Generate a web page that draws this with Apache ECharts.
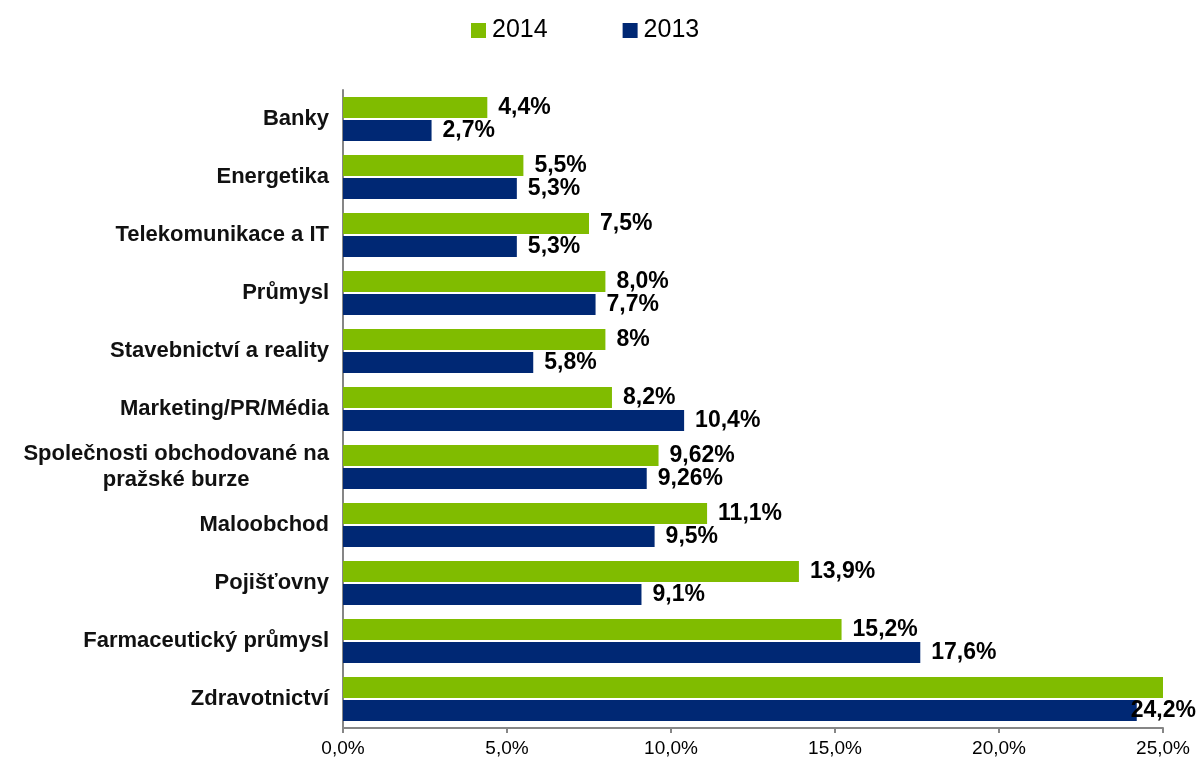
<!DOCTYPE html>
<html>
<head>
<meta charset="utf-8">
<script src="https://cdn.jsdelivr.net/npm/echarts@6/dist/echarts.min.js"></script>
<style>
  html, body { margin: 0; padding: 0; background: #fff; }
  #chart { width: 1198px; height: 758px; }
</style>
</head>
<body>
<div id="chart"></div>
<script>
// data
const categories = ['Banky', 'Energetika', 'Telekomunikace a IT', 'Průmysl', 'Stavebnictví a reality',
  'Marketing/PR/Média', 'Společnosti obchodované na\npražské burze', 'Maloobchod', 'Pojišťovny',
  'Farmaceutický průmysl', 'Zdravotnictví'];
const values2014 = [4.4, 5.5, 7.5, 8.0, 8.0, 8.2, 9.62, 11.1, 13.9, 15.2, 25.0];
const values2013 = [2.7, 5.3, 5.3, 7.7, 5.8, 10.4, 9.26, 9.5, 9.1, 17.6, 24.2];
const labels2014 = ['4,4%', '5,5%', '7,5%', '8,0%', '8%', '8,2%', '9,62%', '11,1%', '13,9%', '15,2%', ''];
const labels2013 = ['2,7%', '5,3%', '5,3%', '7,7%', '5,8%', '10,4%', '9,26%', '9,5%', '9,1%', '17,6%', '24,2%'];
const xTicks = [0, 5, 10, 15, 20, 25];

const chart = echarts.init(document.getElementById('chart'));

const valueLabel = {
  show: true,
  position: 'right',
  distance: 11,
  color: '#000',
  fontFamily: 'Liberation Sans',
  fontSize: 23,
  fontWeight: 'bold'
};

const option = {
  animation: false,
  textStyle: { fontFamily: 'Liberation Sans' },
  legend: {
    left: 466,
    top: 13,
    itemWidth: 15,
    itemHeight: 15,
    itemGap: 75,
    icon: 'rect',
    textStyle: { fontSize: 25, color: '#000', padding: [0, 0, 0, 1] },
    data: ['2014', '2013']
  },
  grid: { left: 343, right: 35, top: 90, bottom: 30 },
  xAxis: {
    type: 'value',
    min: xTicks[0],
    max: xTicks[xTicks.length - 1],
    interval: 5,
    splitLine: { show: false },
    axisLine: { show: true, lineStyle: { color: '#868686', width: 2 } },
    axisTick: { show: true, length: 5, lineStyle: { color: '#868686', width: 2 } },
    axisLabel: {
      margin: 11,
      fontSize: 19,
      color: '#000',
      formatter: v => v.toFixed(1).replace('.', ',') + '%'
    }
  },
  yAxis: {
    type: 'category',
    inverse: true,
    data: categories,
    axisLine: { show: true, lineStyle: { color: '#868686', width: 2 } },
    axisTick: { show: false },
    axisLabel: {
      margin: 14,
      formatter: v => v.split('\n').map(s => '{c|' + s + '}').join('\n'),
      rich: {
        c: { align: 'center', fontSize: 22, fontWeight: 'bold', color: '#111', lineHeight: 26 }
      }
    }
  },
  series: [
    {
      name: '2014',
      type: 'bar',
      data: values2014,
      barGap: '10%',
      barCategoryGap: '24%',
      itemStyle: { color: '#80bc00' },
      label: Object.assign({}, valueLabel, {
        formatter: p => labels2014[p.dataIndex]
      })
    },
    {
      name: '2013',
      type: 'bar',
      data: values2013.map((v, i) => i === values2013.length - 1
        ? { value: v, label: { offset: [-17, 0] } }
        : v),
      barGap: '10%',
      barCategoryGap: '24%',
      itemStyle: { color: '#002874' },
      label: Object.assign({}, valueLabel, {
        formatter: p => labels2013[p.dataIndex]
      })
    }
  ]
};

chart.setOption(option);
window.addEventListener('resize', () => {
  chart.resize();
});
</script>
</body>
</html>
